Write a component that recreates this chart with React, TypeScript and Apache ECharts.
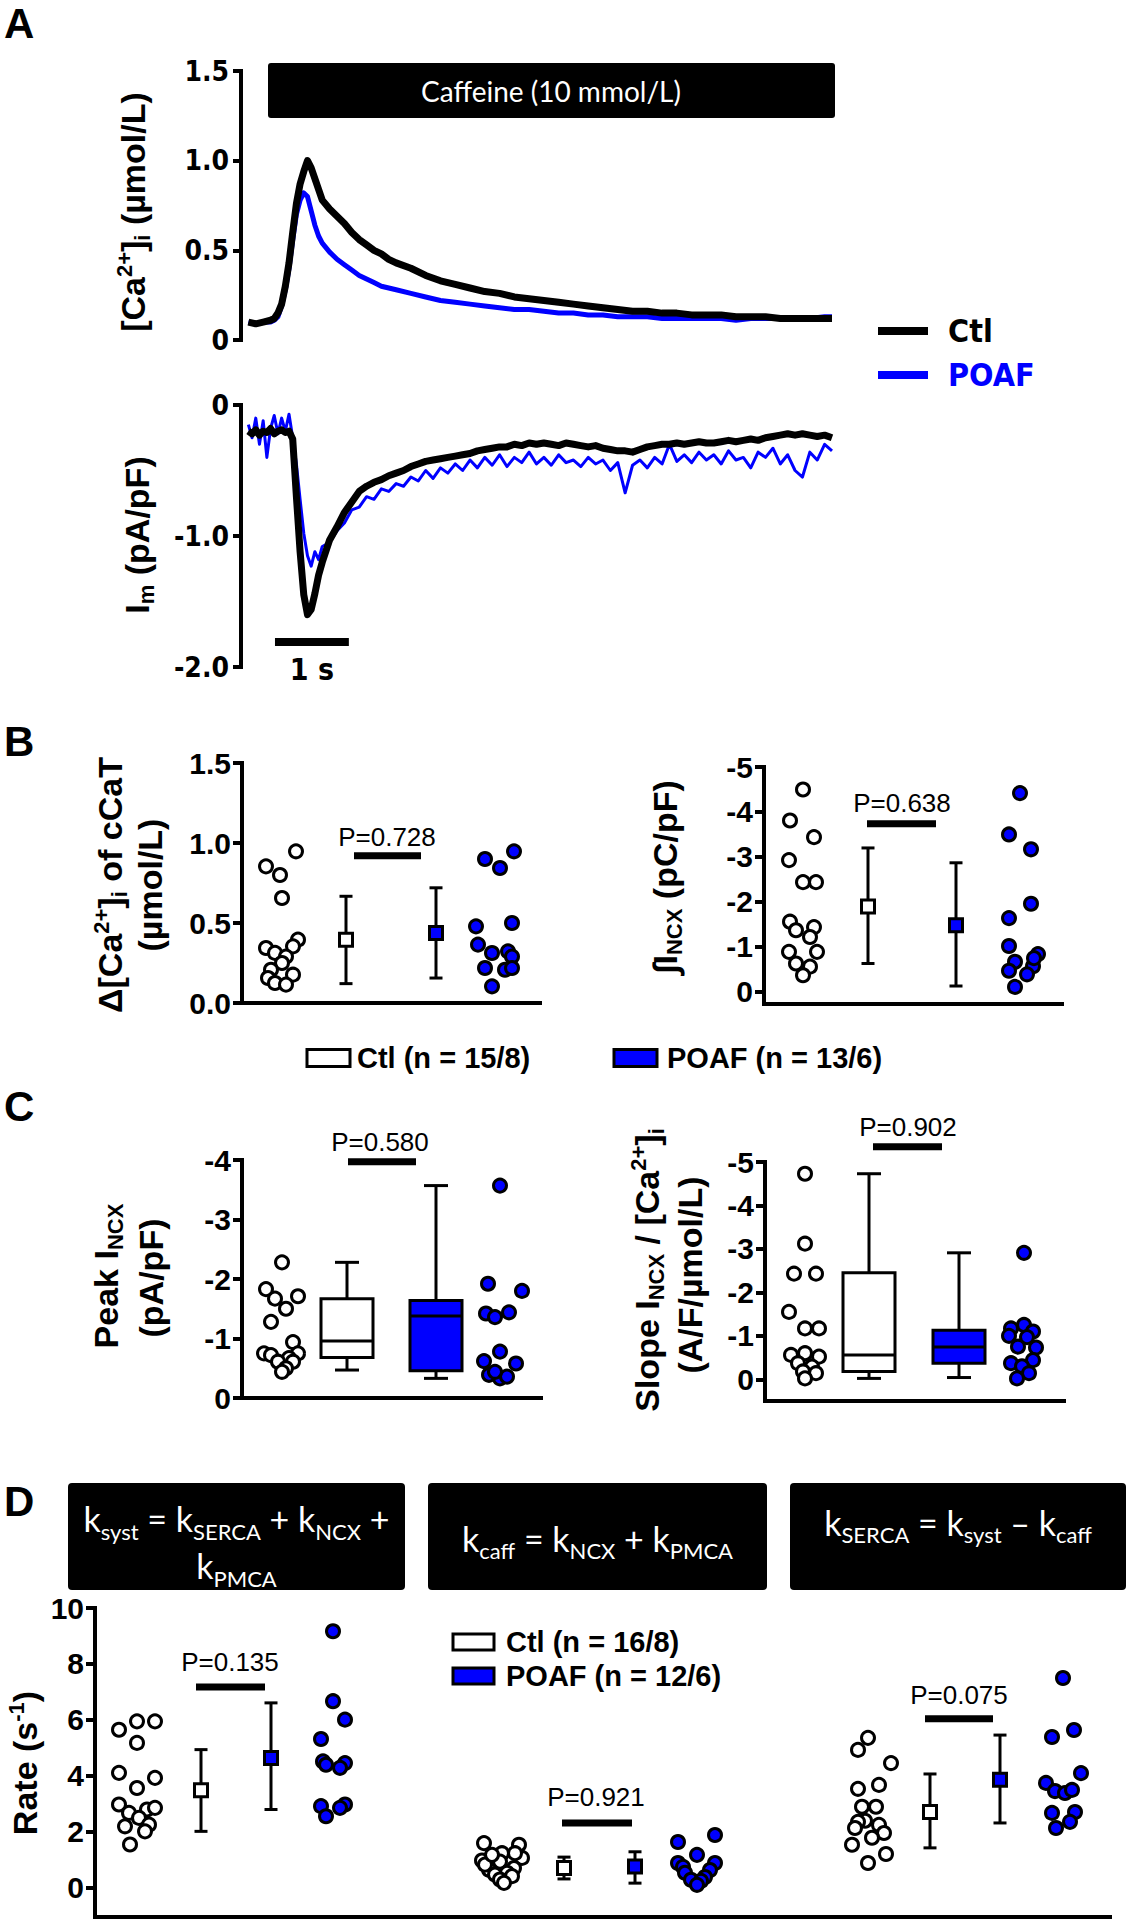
import React, { useEffect, useRef } from "react";
import * as echarts from "echarts";

const BLUE = "#0000ff";
const ARIAL = '"Liberation Sans", Arial, Helvetica, sans-serif';
const NARROW = '"Liberation Sans Narrow", "Arial Narrow", "DejaVu Sans Condensed", sans-serif';
const CALIBRI = 'Lato, "Open Sans", "DejaVu Sans", sans-serif';

// ---------- Panel A : traces (time in s) ----------
const tCa = [0, 0.1, 0.2, 0.3, 0.35, 0.4, 0.45, 0.5, 0.55, 0.6, 0.65, 0.7, 0.75, 0.8, 0.85, 0.9, 0.95, 1.0, 1.1, 1.2, 1.3, 1.4, 1.5, 1.6, 1.7, 1.8, 1.9, 2.0, 2.2, 2.4, 2.6, 2.8, 3.0, 3.2, 3.4, 3.6, 3.8, 4.0, 4.2, 4.4, 4.6, 4.8, 5.0, 5.2, 5.4, 5.6, 5.8, 6.0, 6.2, 6.4, 6.6, 6.8, 7.0, 7.2, 7.4, 7.6, 7.8, 7.9];
const caCtl = [0.1, 0.09, 0.1, 0.11, 0.12, 0.15, 0.2, 0.3, 0.43, 0.6, 0.76, 0.87, 0.94, 1.0, 0.96, 0.9, 0.84, 0.78, 0.73, 0.69, 0.65, 0.6, 0.56, 0.53, 0.5, 0.48, 0.45, 0.43, 0.4, 0.36, 0.33, 0.31, 0.29, 0.27, 0.26, 0.24, 0.23, 0.22, 0.21, 0.2, 0.19, 0.18, 0.17, 0.16, 0.16, 0.15, 0.15, 0.14, 0.14, 0.14, 0.13, 0.13, 0.13, 0.12, 0.12, 0.12, 0.12, 0.12];
const caPoaf = [0.1, 0.09, 0.1, 0.1, 0.11, 0.13, 0.19, 0.28, 0.4, 0.56, 0.7, 0.78, 0.82, 0.8, 0.72, 0.64, 0.58, 0.54, 0.49, 0.45, 0.42, 0.39, 0.36, 0.34, 0.32, 0.3, 0.29, 0.28, 0.26, 0.24, 0.22, 0.21, 0.2, 0.19, 0.18, 0.17, 0.17, 0.16, 0.15, 0.15, 0.14, 0.14, 0.13, 0.13, 0.13, 0.12, 0.12, 0.12, 0.12, 0.12, 0.11, 0.12, 0.12, 0.12, 0.12, 0.12, 0.13, 0.13];

const tIm = [0, 0.05, 0.1, 0.15, 0.2, 0.25, 0.3, 0.35, 0.4, 0.45, 0.5, 0.55, 0.6, 0.65, 0.7, 0.75, 0.8, 0.85, 0.9, 0.95,
  1.0, 1.1, 1.2, 1.3, 1.4, 1.5, 1.6, 1.7, 1.8, 1.9,
  2.0, 2.1, 2.2, 2.3, 2.4, 2.5, 2.6, 2.7, 2.8, 2.9,
  3.0, 3.1, 3.2, 3.3, 3.4, 3.5, 3.6, 3.7, 3.8, 3.9,
  4.0, 4.1, 4.2, 4.3, 4.4, 4.5, 4.6, 4.7, 4.8, 4.9,
  5.0, 5.1, 5.2, 5.3, 5.4, 5.5, 5.6, 5.7, 5.8, 5.9,
  6.0, 6.1, 6.2, 6.3, 6.4, 6.5, 6.6, 6.7, 6.8, 6.9,
  7.0, 7.1, 7.2, 7.3, 7.4, 7.5, 7.6, 7.7, 7.8, 7.9];
const imCtl = [-0.2, -0.22, -0.19, -0.23, -0.2, -0.21, -0.18, -0.22, -0.2, -0.19, -0.21, -0.2, -0.26, -0.7, -1.12, -1.45, -1.6, -1.56, -1.44, -1.3,
  -1.2, -1.03, -0.93, -0.82, -0.74, -0.66, -0.62, -0.59, -0.57, -0.54,
  -0.52, -0.5, -0.47, -0.45, -0.43, -0.42, -0.41, -0.4, -0.39, -0.38,
  -0.37, -0.35, -0.34, -0.33, -0.32, -0.32, -0.3, -0.31, -0.29, -0.3,
  -0.29, -0.3, -0.31, -0.29, -0.3, -0.31, -0.32, -0.31, -0.33, -0.34,
  -0.35, -0.35, -0.36, -0.34, -0.32, -0.31, -0.3, -0.3, -0.29, -0.3,
  -0.29, -0.28, -0.29, -0.29, -0.28, -0.27, -0.28, -0.27, -0.26, -0.27,
  -0.25, -0.24, -0.23, -0.22, -0.23, -0.22, -0.23, -0.24, -0.23, -0.25];
const imPoaf = [-0.15, -0.25, -0.1, -0.3, -0.12, -0.4, -0.18, -0.08, -0.22, -0.1, -0.2, -0.07, -0.25, -0.45, -0.72, -0.98, -1.15, -1.23, -1.12, -1.18,
  -1.08, -1.05, -0.96, -0.9, -0.8, -0.78, -0.7, -0.72, -0.64, -0.66,
  -0.6, -0.62, -0.55, -0.58, -0.5, -0.56, -0.48, -0.52, -0.45, -0.5,
  -0.42, -0.48, -0.4, -0.46, -0.38, -0.47, -0.4, -0.44, -0.36, -0.45,
  -0.4, -0.46, -0.38, -0.44, -0.42, -0.47, -0.4, -0.45, -0.42, -0.5,
  -0.44, -0.67, -0.46, -0.42, -0.48, -0.4, -0.45, -0.3, -0.43, -0.38,
  -0.44, -0.36, -0.42, -0.38, -0.45, -0.35, -0.42, -0.4, -0.48, -0.36,
  -0.4, -0.33, -0.45, -0.38, -0.5, -0.55, -0.36, -0.42, -0.3, -0.35];

// ---------- Panel B ----------
const bCaCtl = [0.948, 0.854, 0.8, 0.656, 0.396, 0.344, 0.354, 0.313, 0.29, 0.25, 0.208, 0.177, 0.156, 0.125, 0.115];
const bCaCtlJit = [14, -16, -2, 0, 16, -16, 11, -7, 4, 0, -11, 11, -14, -7, 4];
const bCaPoaf = [0.948, 0.9, 0.844, 0.479, 0.5, 0.365, 0.3125, 0.323, 0.29, 0.219, 0.208, 0.219, 0.104];
const bCaPoafJit = [18, -11, 4, -20, 16, -18, -4, 12, 16, -11, 9, 16, -4];
const bCaCtlStats = [0.396, 0.121, 0.667]; // mean, low, high
const bCaPoafStats = [0.4375, 0.156, 0.72];

const bIntCtl = [-4.5, -3.81, -3.44, -2.93, -2.44, -2.44, -1.56, -1.37, -1.44, -1.22, -0.89, -0.89, -0.63, -0.56, -0.37];
const bIntCtlJit = [0, -13, 11, -14, 0, 13, -13, -7, 11, 7, -14, 14, -7, 7, 0];
const bIntPoaf = [-4.42, -3.5, -3.17, -1.96, -1.64, -1.02, -0.84, -0.67, -0.57, -0.47, -0.39, -0.11, -0.75];
const bIntPoafJit = [0, -11, 11, 11, -11, -11, 18, -5, 13, -11, 7, -5, 14];
const bIntCtlStats = [-1.9, -0.63, -3.2];
const bIntPoafStats = [-1.48, -0.13, -2.87];

// ---------- Panel C ----------
const cPeakCtl = [-2.28, -1.83, -1.67, -1.71, -1.5, -1.28, -0.94, -0.75, -0.72, -0.75, -0.67, -0.61, -0.61, -0.5, -0.44];
const cPeakCtlJit = [0, -16, -7, 16, 4, -11, 11, -18, -11, 16, 7, -4, 11, 4, 0];
const cPeakPoaf = [-3.57, -1.92, -1.8, -1.42, -1.36, -1.44, -0.78, -0.62, -0.58, -0.39, -0.33, -0.36, -0.44];
const cPeakPoafJit = [0, -12, 22, -14, -5, 9, 0, -16, 16, -11, 0, 7, -5];
const cPeakCtlBox = [-0.47, -0.68, -0.96, -1.67, -2.28]; // whisker, q1, median, q3, whisker
const cPeakPoafBox = [-0.33, -0.46, -1.38, -1.64, -3.57];

const cSlopeCtl = [-4.73, -3.12, -2.43, -2.43, -1.55, -1.17, -1.17, -0.6, -0.56, -0.52, -0.37, -0.29, -0.18, -0.14, -0.02];
const cSlopeCtlJit = [0, 0, -11, 11, -16, 0, 14, 0, -14, 14, -7, 7, -2, 11, 0];
const cSlopePoaf = [-2.91, -1.25, -1.17, -1.1, -1.0, -0.97, -0.75, -0.73, -0.44, -0.37, -0.3, -0.14, -0.02];
const cSlopePoafJit = [2, 2, -11, 11, -13, 5, -4, 14, 11, -11, 0, 7, -5];
const cSlopeCtlBox = [-0.02, -0.18, -0.56, -2.45, -4.73];
const cSlopePoafBox = [-0.04, -0.37, -0.74, -1.13, -2.91];

// ---------- Panel D ----------
const dSystCtl = [5.65, 5.95, 5.95, 5.18, 4.11, 3.93, 3.57, 2.98, 2.68, 2.8, 2.86, 2.5, 2.2, 2.26, 2.02, 1.55];
const dSystCtlJit = [-18, 0, 18, 0, -18, 18, 0, -18, -8, 10, 18, 2, -12, 12, 8, -7];
const dSystPoaf = [9.17, 6.67, 6.01, 5.32, 4.52, 4.46, 4.4, 4.29, 2.92, 2.98, 2.56, 2.86];
const dSystPoafJit = [0, 0, 12, -12, -10, 12, -7, 7, -12, 12, -7, 7];
const dSystCtlStats = [3.49, 2.02, 4.94];
const dSystPoafStats = [4.64, 2.8, 6.61];

const dCaffCtl = [1.6, 1.24, 1.54, 0.98, 0.94, 1.07, 0.65, 0.71, 0.48, 0.54, 0.83, 0.3, 0.42, 0.18, 1.18, 1.24];
const dCaffCtlJit = [-18, 0, 17, -20, -2, 20, -13, 12, -7, 5, -17, -2, 10, 2, -10, 13];
const dCaffPoaf = [1.64, 1.89, 1.18, 0.89, 0.89, 0.75, 0.64, 0.54, 0.39, 0.29, 0.25, 0.11];
const dCaffPoafJit = [-19, 18, 0, -19, 18, -14, 13, -12, 8, -6, 4, 0];
const dCaffCtlStats = [0.71, 0.32, 1.1];
const dCaffPoafStats = [0.76, 0.17, 1.29];

const dSercaCtl = [5.36, 4.93, 4.46, 3.68, 3.54, 2.9, 2.9, 2.4, 2.36, 2.25, 2.14, 1.96, 1.79, 1.54, 1.21, 0.89];
const dSercaCtlJit = [-2, -12, 21, 9, -12, -8, 6, -5, -12, 9, -15, 14, 2, -18, 16, -2];
const dSercaPoaf = [7.5, 5.39, 5.64, 4.1, 3.75, 3.46, 3.39, 3.5, 2.68, 2.71, 2.36, 2.14];
const dSercaPoafJit = [0, -11, 11, 18, -17, -8, 2, 9, -11, 12, 7, -7];
const dSercaCtlStats = [2.71, 1.43, 4.07];
const dSercaPoafStats = [3.86, 2.32, 5.46];

const pLabels = ["P=0.728", "P=0.638", "P=0.580", "P=0.902", "P=0.135", "P=0.921", "P=0.075"];

// ---------- helpers ----------
function lineS(ax: number, t: number[], v: number[], color: string, w: number) {
  return {
    type: "line", xAxisIndex: ax, yAxisIndex: ax, showSymbol: false, symbol: "none",
    data: t.map((x, i) => [x, v[i]]), lineStyle: { color, width: w, join: "round" },
    silent: true, clip: false, z: 2,
  };
}
function dots(ax: number, vals: number[], jit: number[], cx: number, fill: string) {
  return {
    type: "scatter", xAxisIndex: ax, yAxisIndex: ax, symbol: "circle", symbolSize: 13,
    data: vals.map((v, i) => [cx + jit[i], v]),
    itemStyle: { color: fill, borderColor: "#000", borderWidth: 3, opacity: 1 },
    silent: true, clip: false, z: 4, emphasis: { disabled: true },
  };
}
function meanSD(ax: number, cx: number, st: number[], fill: string) {
  return {
    type: "custom", xAxisIndex: ax, yAxisIndex: ax, clip: false, silent: true, z: 3,
    data: [[cx, st[0], st[1], st[2]]], encode: { x: 0, y: [1, 2, 3] },
    renderItem: (_p: any, api: any) => {
      const x = api.value(0);
      const c = api.coord([x, api.value(1)]);
      const lo = api.coord([x, api.value(2)]);
      const hi = api.coord([x, api.value(3)]);
      const cap = 6.5, s = 13;
      const ls = { stroke: "#000", lineWidth: 3 };
      return {
        type: "group", children: [
          { type: "line", shape: { x1: c[0], y1: lo[1], x2: c[0], y2: hi[1] }, style: ls },
          { type: "line", shape: { x1: c[0] - cap, y1: lo[1], x2: c[0] + cap, y2: lo[1] }, style: ls },
          { type: "line", shape: { x1: c[0] - cap, y1: hi[1], x2: c[0] + cap, y2: hi[1] }, style: ls },
          { type: "rect", shape: { x: c[0] - s / 2, y: c[1] - s / 2, width: s, height: s }, style: { fill, stroke: "#000", lineWidth: 3 } },
        ],
      };
    },
  };
}
function boxS(ax: number, cx: number, b: number[], fill: string) {
  return {
    type: "custom", xAxisIndex: ax, yAxisIndex: ax, clip: false, silent: true, z: 3,
    data: [[cx, b[0], b[1], b[2], b[3], b[4]]], encode: { x: 0, y: [1, 2, 3, 4, 5] },
    renderItem: (_p: any, api: any) => {
      const x = api.value(0);
      const pt = (i: number) => api.coord([x, api.value(i)]);
      const lo = pt(1), q1 = pt(2), md = pt(3), q3 = pt(4), hi = pt(5);
      const cx0 = lo[0], hw = 26, cw = 12;
      const ls = { stroke: "#000", lineWidth: 3 };
      return {
        type: "group", children: [
          { type: "line", shape: { x1: cx0, y1: lo[1], x2: cx0, y2: q1[1] }, style: ls },
          { type: "line", shape: { x1: cx0, y1: q3[1], x2: cx0, y2: hi[1] }, style: ls },
          { type: "line", shape: { x1: cx0 - cw, y1: lo[1], x2: cx0 + cw, y2: lo[1] }, style: ls },
          { type: "line", shape: { x1: cx0 - cw, y1: hi[1], x2: cx0 + cw, y2: hi[1] }, style: ls },
          { type: "rect", shape: { x: cx0 - hw, y: Math.min(q1[1], q3[1]), width: 2 * hw, height: Math.abs(q1[1] - q3[1]) }, style: { fill, stroke: "#000", lineWidth: 3 } },
          { type: "line", shape: { x1: cx0 - hw, y1: md[1], x2: cx0 + hw, y2: md[1] }, style: ls },
        ],
      };
    },
  };
}
function pS(ax: number, label: string, x1: number, x2: number, yBar: number, xText: number, yText: number) {
  return {
    type: "custom", xAxisIndex: ax, yAxisIndex: ax, clip: false, silent: true, z: 3,
    data: [[x1, yBar, x2, xText, yText]], encode: { x: [0, 2, 3], y: [1, 4] },
    renderItem: (_p: any, api: any) => {
      const a = api.coord([api.value(0), api.value(1)]);
      const b = api.coord([api.value(2), api.value(1)]);
      const t = api.coord([api.value(3), api.value(4)]);
      return {
        type: "group", children: [
          { type: "rect", shape: { x: a[0], y: a[1] - 3.5, width: b[0] - a[0], height: 7 }, style: { fill: "#000" } },
          { type: "text", x: t[0], y: t[1], style: { text: label, fill: "#000", fontSize: 26, fontFamily: ARIAL, align: "center", verticalAlign: "middle" } },
        ],
      };
    },
  };
}
function scaleBarS(ax: number, t0: number, t1: number, yBar: number, yText: number) {
  return {
    type: "custom", xAxisIndex: ax, yAxisIndex: ax, clip: false, silent: true, z: 3,
    data: [[t0, yBar, t1, yText]], encode: { x: [0, 2], y: [1, 3] },
    renderItem: (_p: any, api: any) => {
      const a = api.coord([api.value(0), api.value(1)]);
      const b = api.coord([api.value(2), api.value(1)]);
      const t = api.coord([(api.value(0) + api.value(2)) / 2, api.value(3)]);
      return {
        type: "group", children: [
          { type: "rect", shape: { x: a[0], y: a[1] - 4, width: b[0] - a[0], height: 8 }, style: { fill: "#000" } },
          { type: "text", x: t[0], y: t[1], style: { text: "1 s", fill: "#000", fontSize: 30, fontWeight: "bold", fontFamily: NARROW, align: "center", verticalAlign: "middle" } },
        ],
      };
    },
  };
}

const axisLineStyle = { color: "#000", width: 4, cap: "square" };
function yAx(gi: number, min: number, max: number, ticks: number[], fmt: (v: number) => string, inverse: boolean, narrow = false) {
  return {
    type: "value", gridIndex: gi, min, max, inverse,
    axisLine: { show: true, onZero: false, lineStyle: axisLineStyle },
    axisTick: { show: true, inside: false, length: narrow ? 8 : 9, lineStyle: { color: "#000", width: 4 }, customValues: ticks },
    axisLabel: {
      customValues: ticks, formatter: fmt, color: "#000", fontWeight: "bold",
      fontFamily: narrow ? NARROW : ARIAL, fontSize: narrow ? 28 : 30, margin: narrow ? 12 : 11,
    },
    splitLine: { show: false },
  };
}
function xAx(gi: number, min: number, max: number, show: boolean) {
  return {
    type: "value", gridIndex: gi, min, max, show,
    axisLine: { show, onZero: false, lineStyle: axisLineStyle },
    axisTick: { show: false }, axisLabel: { show: false }, splitLine: { show: false },
  };
}

const TS = 34;
const richTitle = {
  b: { fontSize: TS, fontWeight: "bold", fontFamily: ARIAL, fill: "#000", lineHeight: 40, verticalAlign: "middle" },
  sup: { fontSize: 22, fontWeight: "bold", fontFamily: ARIAL, fill: "#000", lineHeight: 20, verticalAlign: "top" },
  sub: { fontSize: 22, fontWeight: "bold", fontFamily: ARIAL, fill: "#000", lineHeight: 20, verticalAlign: "bottom" },
};
function vtitle(x: number, y: number, text: string) {
  return { type: "text", x, y, rotation: Math.PI / 2, silent: true, style: { text, rich: richTitle, align: "center", verticalAlign: "middle" } };
}
function letter(t: string, x: number, y: number) {
  return { type: "text", x, y, silent: true, style: { text: t, fill: "#000", fontSize: 42, fontWeight: "bold", fontFamily: ARIAL, align: "left", verticalAlign: "top" } };
}
function legItem(x: number, y: number, w: number, h: number, fill: string, label: string, tx: number) {
  return [
    { type: "rect", silent: true, shape: { x, y: y - h / 2, width: w, height: h }, style: { fill, stroke: "#000", lineWidth: 3 } },
    { type: "text", x: tx, y, silent: true, style: { text: label, fill: "#000", fontSize: 29, fontWeight: "bold", fontFamily: ARIAL, align: "left", verticalAlign: "middle" } },
  ];
}
const richHead = {
  m: { fontSize: 34, fontFamily: CALIBRI, fill: "#fff", lineHeight: 47, verticalAlign: "middle" },
  s: { fontSize: 22, fontFamily: CALIBRI, fill: "#fff", lineHeight: 22, verticalAlign: "bottom" },
};
function header(x: number, w: number, text: string, ty: number) {
  return [
    { type: "rect", silent: true, shape: { x, y: 1483, width: w, height: 107, r: 4 }, style: { fill: "#000" } },
    { type: "text", x: x + w / 2, y: ty, silent: true, style: { text, rich: richHead, align: "center", verticalAlign: "middle" } },
  ];
}

function buildOption() {
  const grids = [
    { left: 241, top: 71, width: 591, height: 269 },
    { left: 241, top: 405, width: 591, height: 262 },
    { left: 242, top: 763, width: 298, height: 240 },
    { left: 764, top: 767, width: 298, height: 237 },
    { left: 242, top: 1160, width: 299, height: 238 },
    { left: 765, top: 1162, width: 299, height: 239 },
    { left: 95, top: 1608, width: 1015, height: 309 },
  ].map((g) => ({ ...g, containLabel: false, outerBoundsMode: "none" }));

  const xAxes = [
    xAx(0, -0.1, 7.9, false), xAx(1, -0.1, 7.9, false),
    xAx(2, 0, 298, true), xAx(3, 0, 298, true), xAx(4, 0, 299, true), xAx(5, 0, 299, true), xAx(6, 0, 1015, true),
  ];
  const f1 = (v: number) => (v === 0 ? "0" : v.toFixed(1));
  const fi = (v: number) => String(v);
  const yAxes = [
    yAx(0, 0, 1.5, [0, 0.5, 1, 1.5], f1, false, true),
    yAx(1, -2, 0, [-2, -1, 0], f1, false, true),
    yAx(2, 0, 1.5, [0, 0.5, 1, 1.5], (v) => v.toFixed(1), false),
    yAx(3, -5, 0.27, [-5, -4, -3, -2, -1, 0], fi, true),
    yAx(4, -4, 0, [-4, -3, -2, -1, 0], fi, true),
    yAx(5, -5, 0.5, [-5, -4, -3, -2, -1, 0], fi, true),
    yAx(6, -1.04, 10, [0, 2, 4, 6, 8, 10], fi, false),
  ];

  const series: any[] = [];
  series.push(lineS(0, tCa, caPoaf, BLUE, 5));
  series.push(lineS(0, tCa, caCtl, "#000", 7));
  series.push(lineS(1, tIm, imPoaf, BLUE, 3));
  series.push(lineS(1, tIm, imCtl, "#000", 7));
  series.push(scaleBarS(1, 0.36, 1.36, -1.81, -2.02));

  // B left
  const gB1 = [40, 104, 194, 254];
  series.push(dots(2, bCaCtl, bCaCtlJit, gB1[0], "#fff"));
  series.push(meanSD(2, gB1[1], bCaCtlStats, "#fff"));
  series.push(meanSD(2, gB1[2], bCaPoafStats, BLUE));
  series.push(dots(2, bCaPoaf, bCaPoafJit, gB1[3], BLUE));
  series.push(pS(2, pLabels[0], 112, 179, 0.92, 145, 1.04));
  // B right
  const gB2 = [39, 104, 192, 256];
  series.push(dots(3, bIntCtl, bIntCtlJit, gB2[0], "#fff"));
  series.push(meanSD(3, gB2[1], bIntCtlStats, "#fff"));
  series.push(meanSD(3, gB2[2], bIntPoafStats, BLUE));
  series.push(dots(3, bIntPoaf, bIntPoafJit, gB2[3], BLUE));
  series.push(pS(3, pLabels[1], 103, 172, -3.74, 138, -4.2));
  // C left
  const gC1 = [40, 105, 194, 258];
  series.push(dots(4, cPeakCtl, cPeakCtlJit, gC1[0], "#fff"));
  series.push(boxS(4, gC1[1], cPeakCtlBox, "#fff"));
  series.push(boxS(4, gC1[2], cPeakPoafBox, BLUE));
  series.push(dots(4, cPeakPoaf, cPeakPoafJit, gC1[3], BLUE));
  series.push(pS(4, pLabels[2], 106, 174, -3.97, 138, -4.3));
  // C right
  const gC2 = [40, 104, 194, 257];
  series.push(dots(5, cSlopeCtl, cSlopeCtlJit, gC2[0], "#fff"));
  series.push(boxS(5, gC2[1], cSlopeCtlBox, "#fff"));
  series.push(boxS(5, gC2[2], cSlopePoafBox, BLUE));
  series.push(dots(5, cSlopePoaf, cSlopePoafJit, gC2[3], BLUE));
  series.push(pS(5, pLabels[3], 108, 177, -5.35, 143, -5.8));
  // D
  const gD = [[42, 106, 176, 238], [407, 469, 540, 602], [775, 835, 905, 968]];
  const dSets = [
    [dSystCtl, dSystCtlJit, dSystCtlStats, dSystPoafStats, dSystPoaf, dSystPoafJit],
    [dCaffCtl, dCaffCtlJit, dCaffCtlStats, dCaffPoafStats, dCaffPoaf, dCaffPoafJit],
    [dSercaCtl, dSercaCtlJit, dSercaCtlStats, dSercaPoafStats, dSercaPoaf, dSercaPoafJit],
  ];
  dSets.forEach((s, k) => {
    const g = gD[k];
    series.push(dots(6, s[0], s[1], g[0], "#fff"));
    series.push(meanSD(6, g[1], s[2], "#fff"));
    series.push(meanSD(6, g[2], s[3], BLUE));
    series.push(dots(6, s[4], s[5], g[3], BLUE));
  });
  series.push(pS(6, pLabels[4], 101, 170, 7.18, 135, 8.08));
  series.push(pS(6, pLabels[5], 467, 537, 2.32, 501, 3.25));
  series.push(pS(6, pLabels[6], 830, 898, 6.04, 864, 6.9));

  const graphic: any[] = [
    letter("A", 4, 2), letter("B", 4, 720), letter("C", 4, 1085), letter("D", 4, 1480),
    { type: "rect", silent: true, shape: { x: 268, y: 63, width: 567, height: 55, r: 3 }, style: { fill: "#000" } },
    { type: "text", x: 551, y: 91, silent: true, style: { text: "Caffeine (10 mmol/L)", fill: "#fff", fontSize: 28, fontFamily: CALIBRI, align: "center", verticalAlign: "middle" } },
    { type: "line", silent: true, shape: { x1: 878, y1: 331, x2: 928, y2: 331 }, style: { stroke: "#000", lineWidth: 8 } },
    { type: "text", x: 948, y: 331, silent: true, style: { text: "Ctl", fill: "#000", fontSize: 32, fontWeight: "bold", fontFamily: NARROW, align: "left", verticalAlign: "middle" } },
    { type: "line", silent: true, shape: { x1: 878, y1: 375, x2: 928, y2: 375 }, style: { stroke: BLUE, lineWidth: 8 } },
    { type: "text", x: 948, y: 375, silent: true, style: { text: "POAF", fill: BLUE, fontSize: 32, fontWeight: "bold", fontFamily: NARROW, align: "left", verticalAlign: "middle" } },
    vtitle(133, 212, "{b|[Ca}{sup|2+}{b|]}{sub|i}{b| (µmol/L)}"),
    vtitle(137, 535, "{b|I}{sub|m}{b| (pA/pF)}"),
    vtitle(110, 885, "{b|Δ[Ca}{sup|2+}{b|]}{sub|i}{b| of cCaT}"),
    vtitle(150, 885, "{b|(µmol/L)}"),
    vtitle(665, 877, "{b|∫I}{sub|NCX}{b| (pC/pF)}"),
    vtitle(106, 1276, "{b|Peak I}{sub|NCX}"),
    vtitle(151, 1278, "{b|(pA/pF)}"),
    vtitle(647, 1270, "{b|Slope I}{sub|NCX}{b| / [Ca}{sup|2+}{b|]}{sub|i}"),
    vtitle(690, 1275, "{b|(A/F/µmol/L)}"),
    vtitle(25, 1763, "{b|Rate (s}{sup|-1}{b|)}"),
    ...legItem(307, 1058, 43, 17, "#fff", "Ctl (n = 15/8)", 357),
    ...legItem(614, 1058, 43, 17, BLUE, "POAF (n = 13/6)", 667),
    ...legItem(453, 1642, 41, 16, "#fff", "Ctl (n = 16/8)", 506),
    ...legItem(453, 1676, 41, 16, BLUE, "POAF (n = 12/6)", 506),
    ...header(68, 337, "{m|k}{s|syst}{m| = k}{s|SERCA}{m| + k}{s|NCX}{m| +}\n{m|k}{s|PMCA}", 1542),
    ...header(428, 339, "{m|k}{s|caff}{m| = k}{s|NCX}{m| + k}{s|PMCA}", 1538),
    ...header(790, 336, "{m|k}{s|SERCA}{m| = k}{s|syst}{m| – k}{s|caff}", 1522),
  ];

  return { animation: false, backgroundColor: "#fff", grid: grids, xAxis: xAxes, yAxis: yAxes, series, graphic };
}

export default function App() {
  const ref = useRef<HTMLDivElement>(null);
  useEffect(() => {
    const chart = echarts.init(ref.current!, null, { renderer: "svg" });
    chart.setOption(buildOption() as any);
    return () => chart.dispose();
  }, []);
  return <div ref={ref} style={{ position: "absolute", left: 0, top: 0, width: 1128, height: 1920, background: "#fff" }} />;
}
